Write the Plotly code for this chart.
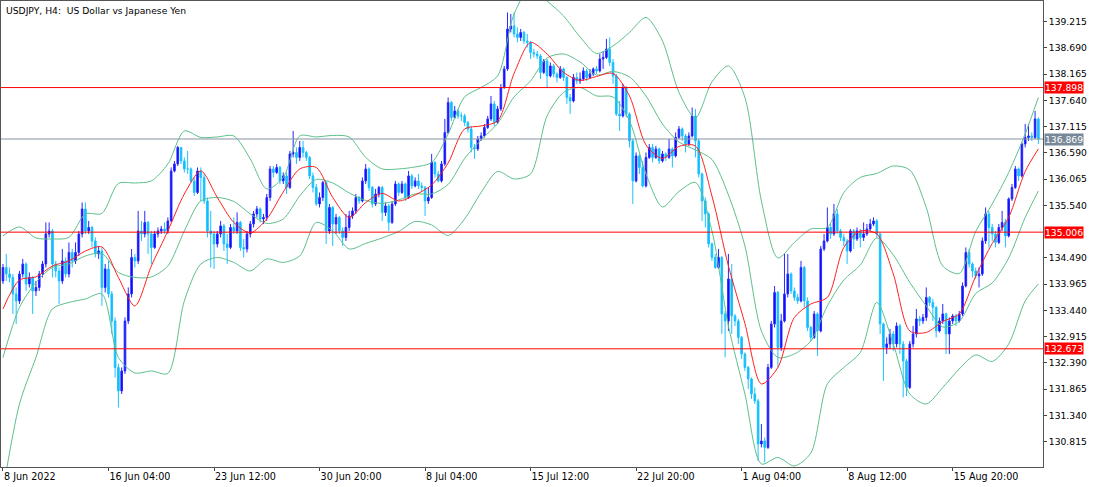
import plotly.graph_objects as go

# ---------------- data (USDJPY H4) ----------------
bar_open = [
    134.03, 134.30, 134.17, 134.10, 133.77, 133.63, 134.17, 134.37, 133.97, 134.10,
    133.83, 133.90, 134.17, 134.37, 134.97, 135.03, 134.37, 134.23, 134.03, 134.43,
    134.17, 134.60, 134.43, 134.60, 134.97, 135.47, 135.03, 135.10, 134.83, 134.57,
    134.63, 133.90, 134.27, 133.77, 133.23, 132.30, 131.83, 132.23, 133.23, 133.77,
    134.50, 134.43, 135.03, 134.97, 135.20, 134.97, 134.70, 134.97, 135.03, 135.07,
    135.03, 135.23, 136.23, 136.37, 136.70, 136.43, 136.27, 136.27, 136.03, 135.80,
    136.23, 136.10, 135.63, 135.03, 134.97, 134.77, 134.97, 135.13, 134.77, 134.70,
    135.10, 135.03, 135.20, 134.70, 134.67, 134.97, 135.17, 135.37, 135.47, 135.27,
    135.30, 135.70, 136.27, 136.20, 136.30, 136.03, 136.13, 135.90, 136.57, 136.60,
    136.50, 136.70, 136.60, 136.50, 136.13, 135.90, 135.57, 135.70, 136.00, 135.03,
    135.50, 135.17, 135.30, 135.03, 134.90, 135.10, 135.33, 135.43, 135.70, 135.63,
    136.03, 136.27, 135.90, 135.57, 135.77, 135.90, 135.40, 135.53, 135.20, 135.57,
    135.97, 135.80, 135.97, 135.70, 136.13, 135.93, 136.03, 135.93, 135.90, 135.63,
    135.70, 136.40, 136.17, 136.03, 136.37, 137.00, 137.60, 137.30, 137.43, 137.33,
    137.33, 137.20, 137.07, 136.70, 136.67, 136.87, 136.93, 137.10, 137.27, 137.57,
    137.20, 137.47, 137.90, 138.27, 139.07, 139.13, 138.97, 138.90, 139.00, 138.83,
    138.80, 138.60, 138.57, 138.53, 138.20, 138.43, 138.13, 138.33, 138.17, 138.10,
    138.27, 138.10, 137.70, 137.63, 138.10, 138.03, 138.07, 138.23, 138.10, 138.17,
    138.27, 138.23, 138.47, 138.50, 138.67, 138.40, 138.13, 137.37, 137.33, 137.90,
    137.37, 136.83, 136.03, 136.53, 136.30, 135.93, 136.50, 136.70, 136.50, 136.67,
    136.43, 136.57, 136.50, 136.67, 136.53, 136.90, 137.07, 136.93, 136.77, 136.93,
    137.33, 136.83, 136.17, 135.63, 135.37, 134.77, 134.50, 134.30, 134.50, 133.37,
    133.23, 134.07, 133.33, 133.23, 132.90, 132.57, 132.30, 132.07, 131.77, 131.63,
    130.77, 130.83, 130.70, 132.30, 133.17, 133.80, 132.70, 133.23, 133.77, 134.17,
    133.83, 133.70, 133.63, 134.30, 133.63, 133.10, 132.90, 133.37, 133.03, 134.67,
    134.83, 135.10, 134.97, 135.37, 135.03, 134.90, 134.83, 134.63, 135.03, 134.87,
    135.03, 134.90, 134.97, 135.07, 135.17, 135.23, 134.97, 133.17, 132.70, 132.77,
    132.97, 132.77, 133.13, 132.77, 132.43, 131.90, 132.77, 132.97, 133.27, 133.23,
    133.30, 133.70, 133.60, 133.50, 133.03, 133.23, 133.37, 132.97, 133.23, 133.33,
    133.23, 133.37, 133.93, 134.60, 134.37, 134.23, 134.13, 134.17, 134.83, 135.37,
    135.10, 134.97, 134.80, 135.10, 135.20, 134.93, 135.67, 135.90, 136.27, 136.13,
    136.77, 136.90, 136.93, 136.90, 137.27,
]
bar_high = [
    134.37, 134.57, 134.30, 134.17, 133.90, 134.23, 134.47, 134.40, 134.20, 134.13,
    134.03, 134.23, 134.43, 135.20, 135.20, 135.07, 134.43, 134.30, 134.67, 134.50,
    134.80, 134.67, 134.80, 135.03, 135.60, 135.60, 135.23, 135.13, 134.90, 134.73,
    134.70, 134.37, 134.43, 133.83, 133.30, 132.37, 132.30, 133.30, 133.90, 134.67,
    134.57, 135.43, 135.23, 135.43, 135.23, 135.03, 135.03, 135.10, 135.13, 135.20,
    135.30, 136.30, 136.43, 136.73, 136.70, 136.50, 136.63, 136.30, 136.10, 136.30,
    136.30, 136.17, 135.70, 135.43, 135.03, 135.03, 135.23, 135.17, 134.97, 135.17,
    135.30, 135.40, 135.23, 134.87, 135.03, 135.23, 135.43, 135.53, 135.50, 135.37,
    135.77, 136.33, 136.33, 136.37, 136.33, 136.20, 136.20, 136.63, 137.03, 136.70,
    136.83, 136.83, 136.63, 136.53, 136.20, 135.97, 135.80, 136.03, 136.03, 135.57,
    135.53, 135.37, 135.33, 135.10, 135.37, 135.43, 135.50, 135.77, 135.73, 136.10,
    136.37, 136.30, 135.93, 135.87, 135.93, 135.93, 135.60, 135.57, 135.63, 136.03,
    136.00, 136.03, 136.00, 136.23, 136.17, 136.10, 136.17, 136.00, 135.93, 135.90,
    136.57, 136.43, 136.23, 136.43, 137.27, 137.70, 137.63, 137.53, 137.47, 137.40,
    137.37, 137.23, 137.13, 136.77, 136.93, 137.00, 137.17, 137.33, 137.73, 137.63,
    137.53, 137.97, 138.33, 139.40, 139.37, 139.40, 139.10, 139.07, 139.03, 138.97,
    138.83, 138.67, 138.63, 138.57, 138.47, 138.47, 138.40, 138.37, 138.20, 138.33,
    138.30, 138.13, 137.77, 138.17, 138.20, 138.20, 138.30, 138.27, 138.27, 138.30,
    138.33, 138.57, 138.63, 138.87, 138.90, 138.47, 138.17, 137.63, 137.97, 137.93,
    137.40, 136.87, 136.60, 136.57, 136.43, 136.60, 136.77, 136.77, 136.73, 136.70,
    136.63, 136.60, 136.87, 136.70, 137.00, 137.13, 137.10, 136.97, 137.00, 137.50,
    137.47, 136.87, 136.20, 135.70, 135.40, 134.80, 134.57, 134.67, 134.53, 133.43,
    134.57, 134.37, 133.37, 133.27, 132.93, 132.60, 132.33, 132.10, 131.90, 131.67,
    131.17, 130.90, 132.37, 133.23, 133.93, 133.83, 133.37, 134.57, 134.57, 134.20,
    133.90, 133.77, 134.43, 134.33, 133.70, 133.13, 133.43, 133.40, 134.73, 134.97,
    135.50, 135.17, 135.57, 135.47, 135.07, 134.97, 134.87, 135.07, 135.07, 135.10,
    135.07, 135.20, 135.17, 135.27, 135.30, 135.27, 135.00, 133.20, 132.90, 133.07,
    133.03, 133.20, 133.17, 132.83, 132.47, 132.83, 133.13, 133.47, 133.33, 133.37,
    133.90, 133.73, 133.67, 133.53, 133.30, 133.57, 133.40, 133.30, 133.37, 133.37,
    133.43, 134.00, 134.70, 134.67, 134.40, 134.30, 134.30, 134.90, 135.50, 135.43,
    135.17, 135.03, 135.17, 135.43, 135.27, 135.70, 135.97, 136.33, 136.30, 136.80,
    137.17, 137.17, 137.00, 137.43, 137.30,
]
bar_low = [
    133.97, 134.03, 134.00, 133.37, 133.17, 133.57, 134.10, 133.83, 133.90, 133.37,
    133.73, 133.83, 134.10, 134.30, 134.90, 134.10, 134.10, 133.57, 133.97, 134.10,
    134.10, 134.30, 134.37, 134.53, 134.90, 134.97, 134.97, 134.70, 134.50, 134.47,
    133.53, 133.80, 133.70, 132.97, 132.10, 131.50, 131.77, 132.17, 133.17, 133.70,
    134.30, 134.37, 134.83, 134.90, 134.57, 134.37, 134.67, 134.90, 134.97, 134.97,
    134.97, 135.20, 136.20, 136.33, 136.37, 136.20, 136.17, 136.00, 135.73, 135.77,
    135.63, 135.57, 134.90, 134.30, 134.27, 134.70, 134.90, 134.63, 134.37, 134.67,
    134.97, 134.97, 134.63, 134.50, 134.60, 134.90, 135.10, 135.30, 135.20, 135.17,
    135.23, 135.63, 136.10, 136.17, 135.97, 135.97, 135.77, 135.87, 136.50, 136.37,
    136.43, 136.50, 136.43, 136.07, 135.80, 135.53, 135.50, 135.63, 134.77, 134.97,
    134.73, 134.97, 134.97, 134.73, 134.83, 135.03, 135.27, 135.37, 135.57, 135.60,
    135.97, 135.83, 135.50, 135.53, 135.70, 135.23, 135.33, 135.03, 135.17, 135.53,
    135.73, 135.77, 135.63, 135.67, 135.87, 135.90, 135.87, 135.83, 135.33, 135.57,
    135.67, 136.10, 136.00, 136.00, 136.33, 136.97, 137.23, 137.27, 137.27, 137.23,
    137.13, 137.00, 136.60, 136.47, 136.63, 136.83, 136.90, 137.07, 137.23, 137.13,
    137.17, 137.43, 137.87, 138.23, 139.00, 138.90, 138.80, 138.83, 138.77, 138.70,
    138.47, 138.50, 138.47, 138.07, 138.17, 137.90, 138.10, 138.10, 138.00, 138.07,
    138.03, 137.57, 137.37, 137.60, 137.97, 137.97, 138.03, 138.03, 138.07, 138.13,
    138.17, 138.20, 138.27, 138.47, 138.33, 137.97, 137.33, 137.03, 137.30, 137.30,
    136.70, 135.57, 136.00, 136.17, 135.90, 135.90, 136.47, 136.40, 136.47, 136.37,
    136.40, 136.43, 136.47, 136.30, 136.50, 136.87, 136.83, 136.60, 136.73, 136.90,
    136.50, 136.10, 135.23, 135.10, 134.70, 134.43, 134.27, 134.27, 132.97, 132.50,
    133.03, 132.97, 133.13, 132.77, 132.47, 132.23, 131.87, 131.67, 131.57, 130.43,
    130.70, 130.40, 130.67, 132.27, 133.10, 132.30, 132.63, 133.20, 133.70, 133.77,
    133.63, 133.57, 133.60, 133.50, 133.03, 132.83, 132.87, 132.53, 133.00, 134.63,
    134.80, 134.87, 134.93, 134.97, 134.83, 134.73, 134.37, 134.60, 134.67, 134.83,
    134.70, 134.83, 134.93, 135.03, 135.13, 134.90, 132.97, 132.03, 132.57, 132.67,
    132.63, 132.70, 132.57, 131.70, 131.73, 131.87, 132.70, 132.90, 133.13, 133.17,
    133.23, 133.53, 133.23, 132.90, 133.00, 133.17, 132.57, 132.57, 133.17, 133.13,
    133.20, 133.33, 133.90, 134.30, 134.10, 134.07, 133.90, 134.13, 134.77, 134.70,
    134.83, 134.70, 134.77, 135.03, 134.70, 134.90, 135.63, 135.87, 136.03, 136.10,
    136.70, 136.83, 136.83, 136.87, 136.77,
]
bar_close = [
    134.30, 134.17, 134.10, 133.77, 133.63, 134.17, 134.37, 133.97, 134.10, 133.83,
    133.90, 134.17, 134.37, 134.97, 135.03, 134.37, 134.23, 134.03, 134.43, 134.17,
    134.60, 134.43, 134.60, 134.97, 135.47, 135.03, 135.10, 134.83, 134.57, 134.63,
    133.90, 134.27, 133.77, 133.23, 132.30, 131.83, 132.23, 133.23, 133.77, 134.50,
    134.43, 135.03, 134.97, 135.20, 134.97, 134.70, 134.97, 135.03, 135.07, 135.03,
    135.23, 136.23, 136.37, 136.70, 136.43, 136.27, 136.27, 136.03, 135.80, 136.23,
    136.10, 135.63, 135.03, 134.97, 134.77, 134.97, 135.13, 134.77, 134.70, 135.10,
    135.03, 135.20, 134.70, 134.67, 134.97, 135.17, 135.37, 135.47, 135.27, 135.30,
    135.70, 136.27, 136.20, 136.30, 136.03, 136.13, 135.90, 136.57, 136.60, 136.50,
    136.70, 136.60, 136.50, 136.13, 135.90, 135.57, 135.70, 136.00, 135.03, 135.50,
    135.17, 135.30, 135.03, 134.90, 135.10, 135.33, 135.43, 135.70, 135.63, 136.03,
    136.27, 135.90, 135.57, 135.77, 135.90, 135.40, 135.53, 135.20, 135.57, 135.97,
    135.80, 135.97, 135.70, 136.13, 135.93, 136.03, 135.93, 135.90, 135.63, 135.70,
    136.40, 136.17, 136.03, 136.37, 137.00, 137.60, 137.30, 137.43, 137.33, 137.33,
    137.20, 137.07, 136.70, 136.67, 136.87, 136.93, 137.10, 137.27, 137.57, 137.20,
    137.47, 137.90, 138.27, 139.07, 139.13, 138.97, 138.90, 139.00, 138.83, 138.80,
    138.60, 138.57, 138.53, 138.20, 138.43, 138.13, 138.33, 138.17, 138.10, 138.27,
    138.10, 137.70, 137.63, 138.10, 138.03, 138.07, 138.23, 138.10, 138.17, 138.27,
    138.23, 138.47, 138.50, 138.67, 138.40, 138.13, 137.37, 137.33, 137.90, 137.37,
    136.83, 136.03, 136.53, 136.30, 135.93, 136.50, 136.70, 136.50, 136.67, 136.43,
    136.57, 136.50, 136.67, 136.53, 136.90, 137.07, 136.93, 136.77, 136.93, 137.33,
    136.83, 136.17, 135.63, 135.37, 134.77, 134.50, 134.30, 134.50, 133.37, 133.23,
    134.07, 133.33, 133.23, 132.90, 132.57, 132.30, 132.07, 131.77, 131.63, 130.77,
    130.83, 130.70, 132.30, 133.17, 133.80, 132.70, 133.23, 133.77, 134.17, 133.83,
    133.70, 133.63, 134.30, 133.63, 133.10, 132.90, 133.37, 133.03, 134.67, 134.83,
    135.10, 134.97, 135.37, 135.03, 134.90, 134.83, 134.63, 135.03, 134.87, 135.03,
    134.90, 134.97, 135.07, 135.17, 135.23, 134.97, 133.17, 132.70, 132.77, 132.97,
    132.77, 133.13, 132.77, 132.43, 131.90, 132.77, 132.97, 133.27, 133.23, 133.30,
    133.70, 133.60, 133.50, 133.03, 133.23, 133.37, 132.97, 133.23, 133.33, 133.23,
    133.37, 133.93, 134.60, 134.37, 134.23, 134.13, 134.17, 134.83, 135.37, 135.10,
    134.97, 134.80, 135.10, 135.20, 134.93, 135.67, 135.90, 136.27, 136.13, 136.77,
    136.90, 136.93, 136.90, 137.27, 136.869,
]

# time axis labels (every 32 H4 bars)
tick_bars = [0, 32, 64, 96, 128, 160, 192, 224, 256, 288]
tick_text = ["8 Jun 2022", "16 Jun 04:00", "23 Jun 12:00", "30 Jun 20:00",
             "8 Jul 04:00", "15 Jul 12:00", "22 Jul 20:00", "1 Aug 04:00",
             "8 Aug 12:00", "15 Aug 20:00"]

# indicator readings (every 5 bars, plus last bar)
ind_bars = list(range(0, 315, 5)) + [314]
ma_red = [133.47, 134.05, 134.11, 134.33, 134.43, 134.63, 134.71, 134.10, 133.53, 134.33,
          135.03, 135.77, 136.23, 135.70, 135.20, 134.99, 135.27, 135.81, 136.27, 136.30,
          135.70, 135.30, 135.60, 135.78, 135.63, 135.75, 135.95, 136.39, 137.07, 137.13,
          137.23, 138.18, 138.80, 138.57, 138.20, 138.04, 138.12, 138.18, 137.73, 136.75,
          136.48, 136.72, 136.73, 135.73, 134.33, 133.18, 131.97, 132.30, 133.30, 133.57,
          133.70, 134.70, 135.03, 134.97, 134.17, 133.03, 133.00, 133.22, 133.37, 134.13,
          134.78, 135.30, 136.22, 136.67]
bb_upper = [134.93, 135.11, 134.89, 134.87, 134.90, 135.37, 135.38, 135.98, 135.99, 136.03,
            136.37, 137.03, 136.90, 136.91, 136.93, 136.47, 135.87, 136.10, 136.93, 136.91,
            136.94, 136.91, 136.50, 136.27, 136.27, 136.31, 136.40, 136.97, 137.71, 137.90,
            138.13, 139.37, 139.90, 139.63, 139.33, 138.91, 138.58, 138.73, 139.00, 139.30,
            138.83, 137.80, 137.29, 138.01, 138.33, 137.70, 135.63, 134.49, 134.80, 135.07,
            135.10, 135.80, 136.10, 136.18, 136.33, 136.25, 135.50, 134.33, 134.18, 135.02,
            135.57, 136.20, 136.97, 137.70]
bb_middle = [132.50, 133.50, 134.00, 134.30, 134.37, 134.53, 134.58, 134.20, 134.10, 134.11,
             134.33, 135.03, 135.63, 135.70, 135.62, 135.37, 135.18, 135.27, 135.73, 136.06,
             135.99, 135.79, 135.64, 135.58, 135.65, 135.77, 135.77, 135.96, 136.48, 136.85,
             137.18, 137.71, 138.03, 138.49, 138.57, 138.41, 138.15, 138.22, 138.11, 137.73,
             137.17, 136.81, 136.65, 136.46, 135.75, 134.73, 133.03, 132.50, 132.57, 132.83,
             133.53, 134.05, 134.35, 134.89, 134.55, 134.00, 133.53, 133.11, 133.22, 133.78,
             133.99, 134.49, 135.30, 135.83]
bb_lower = [129.83, 131.57, 132.50, 133.47, 133.60, 133.67, 133.77, 132.50, 132.19, 132.23,
            132.18, 133.63, 134.37, 134.50, 134.40, 134.23, 134.47, 134.40, 134.53, 135.20,
            135.03, 134.67, 134.78, 134.89, 135.02, 135.22, 135.15, 134.94, 135.27, 135.80,
            136.22, 136.07, 136.17, 137.33, 137.80, 137.90, 137.73, 137.71, 137.23, 136.17,
            135.51, 135.82, 136.00, 135.03, 133.13, 131.77, 130.37, 130.50, 130.33, 130.59,
            131.97, 132.30, 132.60, 133.60, 132.77, 131.77, 131.57, 131.90, 132.27, 132.55,
            132.42, 132.77, 133.63, 133.97]

# price scale labels (135.015 sits under the 135.006 marker in the original, so it is not shown)
price_ticks = [139.215, 138.690, 138.165, 137.640, 137.115, 136.590, 136.065, 135.540,
               134.490, 133.965, 133.440, 132.915, 132.390, 131.865, 131.340, 130.815]
red_levels = [137.898, 135.006, 132.673]
last_price = 136.869

# ---------------- figure ----------------
FONT = "DejaVu Sans"
bars = list(range(len(bar_close)))

fig = go.Figure()
fig.add_trace(go.Candlestick(
    x=bars, open=bar_open, high=bar_high, low=bar_low, close=bar_close,
    increasing=dict(line=dict(color="#2a2aff", width=1), fillcolor="#0000ff"),
    decreasing=dict(line=dict(color="#1ec0ff", width=1), fillcolor="#00bfff"),
    whiskerwidth=0, showlegend=False, hoverinfo="skip",
))

for series in (bb_upper, bb_middle, bb_lower):
    fig.add_trace(go.Scatter(
        x=ind_bars, y=series, mode="lines",
        line=dict(color="#5cc08a", width=1, shape="spline", smoothing=0.8),
        showlegend=False, hoverinfo="skip",
    ))
fig.add_trace(go.Scatter(
    x=ind_bars, y=ma_red, mode="lines",
    line=dict(color="#ff2020", width=1, shape="spline", smoothing=0.8),
    showlegend=False, hoverinfo="skip",
))

shapes = []
for lv in red_levels:
    shapes.append(dict(type="line", xref="paper", x0=0, x1=1, yref="y", y0=lv, y1=lv,
                       line=dict(color="#ff0000", width=1), layer="above"))
shapes.append(dict(type="line", xref="paper", x0=0, x1=1, yref="y", y0=last_price, y1=last_price,
                   line=dict(color="#8593a3", width=1), layer="above"))

annotations = [dict(
    xref="paper", yref="paper", x=0, y=1, xanchor="left", yanchor="top",
    xshift=3, yshift=-2, showarrow=False,
    text="USDJPY, H4:  US Dollar vs Japanese Yen",
    font=dict(family=FONT, size=9.2, color="#000000"),
)]
for lv in red_levels:
    annotations.append(dict(
        xref="paper", yref="y", x=1, y=lv, xanchor="left", yanchor="middle",
        xshift=1, showarrow=False, text=f"{lv:.3f}", bgcolor="#ff0000",
        borderpad=0, font=dict(family=FONT, size=9.2, color="#ffffff"),
    ))
annotations.append(dict(
    xref="paper", yref="y", x=1, y=last_price, xanchor="left", yanchor="middle",
    xshift=1, showarrow=False, text=f"{last_price:.3f}", bgcolor="#778899",
    borderpad=0, font=dict(family=FONT, size=9.2, color="#ffffff"),
))

fig.update_layout(
    width=1100, height=487,
    margin=dict(l=1, r=57, t=1, b=20),
    paper_bgcolor="#ffffff", plot_bgcolor="#ffffff",
    font=dict(family=FONT, size=9.2, color="#000000"),
    showlegend=False,
    shapes=shapes, annotations=annotations,
    xaxis=dict(
        range=[-0.6, 315.4], rangeslider=dict(visible=False),
        tickvals=tick_bars, ticktext=tick_text,
        ticks="outside", ticklen=3, tickcolor="#444444",
        ticklabelposition="outside right",
        showgrid=False, zeroline=False,
        showline=True, mirror=True, linecolor="#555555", linewidth=1,
        tickfont=dict(family=FONT, size=9.6, color="#000000"),
    ),
    yaxis=dict(
        side="right", range=[130.309, 139.629],
        tickvals=price_ticks, tickformat=".3f",
        ticks="outside", ticklen=3, tickcolor="#444444",
        showgrid=False, zeroline=False,
        showline=True, mirror=True, linecolor="#555555", linewidth=1,
        tickfont=dict(family=FONT, size=9.2, color="#000000"),
    ),
)

fig.write_html(
    "out.html",
    config={"displayModeBar": False, "staticPlot": True},
    post_script="document.body.style.margin='0px';document.body.style.overflow='hidden';",
)
